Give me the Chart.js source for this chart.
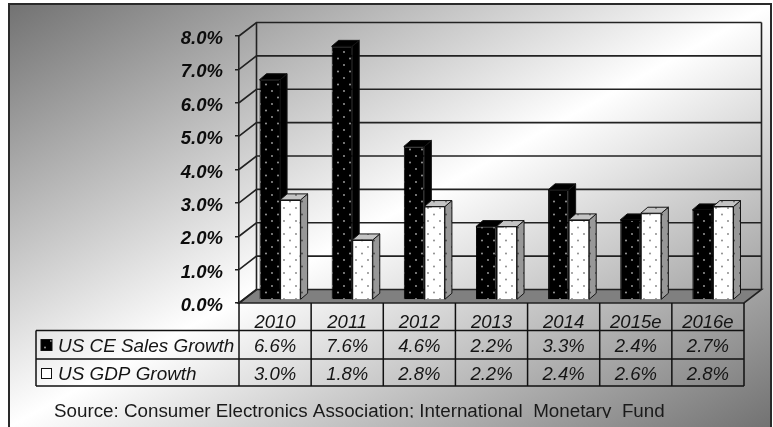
<!DOCTYPE html>
<html>
<head>
<meta charset="utf-8">
<title>US CE Sales vs GDP Growth</title>
<style>
html, body { margin: 0; padding: 0; background: #fff; overflow: hidden; }
#box { position: relative; width: 773px; height: 427px; }
</style>
<script src="https://cdn.jsdelivr.net/npm/chart.js@4"></script>
</head>
<body>
<div id="box"><canvas id="growthChart" width="773" height="427"></canvas></div>
<script>
const years = ["2010", "2011", "2012", "2013", "2014", "2015e", "2016e"];
const ceSales = [6.6, 7.6, 4.6, 2.2, 3.3, 2.4, 2.7];
const gdpGrowth = [3.0, 1.8, 2.8, 2.2, 2.4, 2.6, 2.8];
const seriesNames = ["US CE Sales Growth", "US GDP Growth"];
const sourceNote = "Source: Consumer Electronics Association; International  Monetary  Fund";

const FONT = '"Liberation Sans", Arial, sans-serif';
const INK = "#151515";

// small staggered dot tile, same look as the old office "dotted" fill
function dots(bg, dot) {
    const c = document.createElement("canvas");
    c.width = 12;
    c.height = 13;
    const g = c.getContext("2d");
    g.fillStyle = bg;
    g.fillRect(0, 0, 12, 13);
    g.fillStyle = dot;
    [[3, 3], [9, 9.5]].forEach(p => {
        g.beginPath();
        g.arc(p[0], p[1], 0.9, 0, Math.PI * 2);
        g.fill();
    });
    return g.createPattern(c, "repeat");
}

function poly(ctx, pts, fill) {
    ctx.beginPath();
    pts.forEach((p, i) => i ? ctx.lineTo(p[0], p[1]) : ctx.moveTo(p[0], p[1]));
    ctx.closePath();
    ctx.fillStyle = fill;
    ctx.fill();
    ctx.stroke();
}

const blackFill = dots("#000000", "#a8a8a8");
const whiteFill = dots("#ffffff", "#808080");
const sideFill = dots("#989898", "#444444");
const topFill = dots("#c4c4c4", "#666666");

// top and side faces of one bar series
function drawFaces(ctx, meta, isBlack) {
    const ox = 7, oy = -6;
    ctx.save();
    ctx.strokeStyle = INK;
    ctx.lineWidth = 1;
    meta.data.forEach(b => {
        const l = b.x - b.width / 2, r = b.x + b.width / 2;
        poly(ctx, [[r, b.y], [r + ox, b.y + oy], [r + ox, b.base + oy], [r, b.base]], isBlack ? "#000" : sideFill);
        poly(ctx, [[l, b.y], [l + ox, b.y + oy], [r + ox, b.y + oy], [r, b.y]], isBlack ? "#000" : topFill);
    });
    ctx.restore();
}

// picture frame and diagonal background
const backdrop = {
    id: "backdrop",
    beforeDraw(chart) {
        const ctx = chart.ctx;
        const x = 9, y = 4, w = 763, h = 423;
        const n = Math.hypot(w, h), cx = x + w / 2, cy = y + h / 2;
        const dx = h / n * (w * h / n), dy = w / n * (w * h / n);
        const g = ctx.createLinearGradient(cx - dx, cy - dy, cx + dx, cy + dy);
        g.addColorStop(0, "#727272");
        g.addColorStop(0.5, "#ffffff");
        g.addColorStop(1, "#727272");
        ctx.save();
        ctx.fillStyle = g;
        ctx.fillRect(x, y, w, h);
        ctx.strokeStyle = "#2a2a2a";
        ctx.lineWidth = 2;
        ctx.beginPath();
        ctx.moveTo(x, 427);
        ctx.lineTo(x, y);
        ctx.lineTo(x + w - 1, y);
        ctx.lineTo(x + w - 1, 427);
        ctx.stroke();
        ctx.restore();
    }
};

// back wall, side wall and floor, hung off the value scale
const walls = {
    id: "walls",
    beforeDatasetsDraw(chart) {
        const ctx = chart.ctx, a = chart.chartArea, yS = chart.scales.y;
        const ox = 17.5, oy = -13.5;
        ctx.save();
        ctx.strokeStyle = "#222";
        ctx.lineWidth = 1.6;
        poly(ctx, [[a.left, a.bottom], [a.right, a.bottom], [a.right + ox, a.bottom + oy], [a.left + ox, a.bottom + oy]], "#808080");
        yS.ticks.forEach(t => {
            const py = yS.getPixelForValue(t.value);
            ctx.beginPath();
            ctx.moveTo(a.left, py);
            ctx.lineTo(a.left + ox, py + oy);
            if (t.value > 0) ctx.lineTo(a.right + ox, py + oy);
            ctx.stroke();
        });
        ctx.beginPath();
        ctx.moveTo(a.left + ox, a.top + oy);
        ctx.lineTo(a.left + ox, a.bottom + oy);
        ctx.moveTo(a.right + ox, a.top + oy);
        ctx.lineTo(a.right + ox, a.bottom + oy);
        ctx.stroke();
        ctx.restore();
        // bars stand a little inside the floor
        ctx.save();
        ctx.translate(5, -3);
    },
    beforeDatasetDraw(chart, args) {
        // chart.js paints the last dataset first, the white bars have to come last here
        if (args.index === 1) return false;
        drawFaces(chart.ctx, args.meta, true);
    },
    afterDatasetDraw(chart, args) {
        if (args.index !== 0) return;
        const white = chart.getDatasetMeta(1);
        drawFaces(chart.ctx, white, false);
        white.data.forEach(b => b.draw(chart.ctx));
    },
    afterDatasetsDraw(chart) {
        chart.ctx.restore();
    }
};

// data table under the plot plus the source line
const dataTable = {
    id: "dataTable",
    afterDraw(chart) {
        const ctx = chart.ctx, a = chart.chartArea, xS = chart.scales.x;
        const rows = [a.bottom + 27.5, a.bottom + 56, a.bottom + 83];
        const rowValues = [ceSales, gdpGrowth];
        const tableLeft = 36;
        const step = (a.right - a.left) / years.length;
        ctx.save();
        ctx.strokeStyle = "#111";
        ctx.lineWidth = 1.5;
        ctx.beginPath();
        for (let i = 0; i <= years.length; i++) {
            ctx.moveTo(a.left + i * step, a.bottom);
            ctx.lineTo(a.left + i * step, rows[2]);
        }
        ctx.moveTo(tableLeft, rows[0]);
        ctx.lineTo(tableLeft, rows[2]);
        rows.forEach(r => {
            ctx.moveTo(tableLeft, r);
            ctx.lineTo(a.right, r);
        });
        ctx.stroke();

        ctx.fillStyle = INK;
        ctx.textBaseline = "alphabetic";
        rowValues.forEach((vals, r) => {
            ctx.font = "italic 18.9px " + FONT;
            ctx.textAlign = "left";
            ctx.fillText(seriesNames[r], 58, rows[r] + 21);
            ctx.font = "italic 18.5px " + FONT;
            ctx.textAlign = "center";
            vals.forEach((v, i) => {
                ctx.fillText(v.toFixed(1) + "%", xS.getPixelForValue(i), rows[r] + 21);
            });
        });

        // legend keys
        ctx.lineWidth = 1;
        ctx.fillStyle = blackFill;
        ctx.fillRect(41, rows[0] + 9, 11, 11);
        ctx.strokeRect(41, rows[0] + 9, 11, 11);
        ctx.fillStyle = "#fff";
        ctx.fillRect(41.5, rows[1] + 9.5, 10, 10);
        ctx.strokeRect(41.5, rows[1] + 9.5, 10, 10);

        // the note is cut off by the frame bottom in the original
        ctx.beginPath();
        ctx.rect(0, 400, 773, 18);
        ctx.clip();
        ctx.fillStyle = "#1a1a1a";
        ctx.font = "18.8px " + FONT;
        ctx.textAlign = "left";
        ctx.fillText(sourceNote, 54, 416.5);
        ctx.restore();
    }
};

new Chart(document.getElementById("growthChart"), {
    type: "bar",
    data: {
        labels: years,
        datasets: [{
            label: seriesNames[0],
            data: ceSales,
            backgroundColor: blackFill,
            borderColor: "#000",
            borderWidth: 1,
            clip: false
        }, {
            label: seriesNames[1],
            data: gdpGrowth,
            backgroundColor: whiteFill,
            borderColor: INK,
            borderWidth: 1,
            clip: false
        }]
    },
    options: {
        responsive: false,
        animation: false,
        layout: { padding: { top: 36, right: 29, bottom: 0, left: 0 } },
        datasets: { bar: { categoryPercentage: 0.57, barPercentage: 1 } },
        plugins: { legend: { display: false }, title: { display: false }, tooltip: { enabled: false } },
        scales: {
            x: {
                afterFit(scale) { scale.height = 124; },
                grid: { display: false },
                border: { display: false },
                ticks: {
                    maxRotation: 0,
                    autoSkip: false,
                    padding: 1,
                    color: INK,
                    font: { family: FONT, size: 18.5, style: "italic" }
                }
            },
            y: {
                min: 0,
                max: 8,
                afterFit(scale) { scale.width = 239; },
                grid: { drawOnChartArea: false, color: "#222", tickLength: 4, lineWidth: 1.5 },
                border: { display: true, color: "#222", width: 1.6 },
                ticks: {
                    stepSize: 1,
                    padding: 12,
                    labelOffset: 3,
                    color: "#0c0c0c",
                    font: { family: FONT, size: 18.5, style: "italic", weight: "bold" },
                    callback: v => v.toFixed(1) + "%"
                }
            }
        }
    },
    plugins: [backdrop, walls, dataTable]
});
</script>
</body>
</html>
